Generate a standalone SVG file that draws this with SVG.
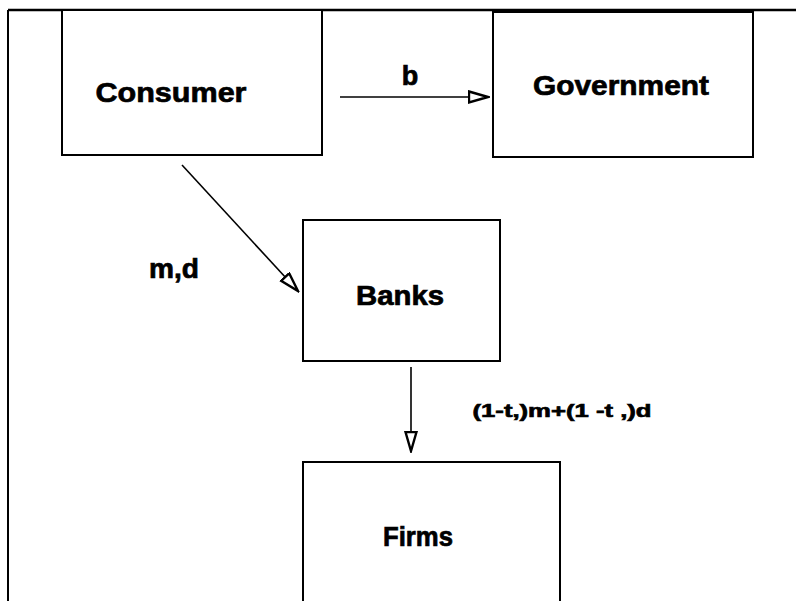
<svg xmlns="http://www.w3.org/2000/svg" width="796" height="601" viewBox="0 0 796 601">
<style>
.box{fill:#fff;stroke:#000;stroke-width:2}
.lbl{font-family:"Liberation Sans",Arial,sans-serif;font-weight:bold;fill:#000;stroke:#000;stroke-width:0.7;text-anchor:middle}
.edge{stroke:#000;stroke-width:1.6;fill:none}
</style>
<defs>
<marker id="arr" markerWidth="22" markerHeight="16" refX="20" refY="7" orient="auto" markerUnits="userSpaceOnUse">
<path d="M1,1.5 L20,7 L1,12.5 Z" fill="#fff" stroke="#000" stroke-width="2.4" stroke-linejoin="miter"/>
</marker>
</defs>
<rect width="796" height="601" fill="#fff"/>
<g id="frame">
<line x1="8" y1="10" x2="796" y2="10" stroke="#000" stroke-width="2.5"/>
<line x1="8" y1="10" x2="8" y2="601" stroke="#000" stroke-width="2"/>
</g>
<g id="consumer">
<rect class="box" x="62" y="10" width="260" height="145"/>
<text class="lbl" x="171" y="102" font-size="28" textLength="151" lengthAdjust="spacingAndGlyphs">Consumer</text>
</g>
<g id="government">
<rect class="box" x="493" y="12" width="260" height="145"/>
<text class="lbl" x="621" y="95" font-size="28" textLength="176" lengthAdjust="spacingAndGlyphs">Government</text>
</g>
<g id="banks">
<rect class="box" x="303" y="220" width="197" height="141"/>
<text class="lbl" x="400" y="305" font-size="27" textLength="88" lengthAdjust="spacingAndGlyphs">Banks</text>
</g>
<g id="firms">
<rect class="box" x="303" y="462" width="257" height="145"/>
<text class="lbl" x="418" y="546" font-size="27" textLength="70" lengthAdjust="spacingAndGlyphs">Firms</text>
</g>
<g id="connectors">
<line class="edge" x1="340" y1="97" x2="488" y2="97" marker-end="url(#arr)"/>
<text class="lbl" x="410" y="85" font-size="27">b</text>
<line class="edge" x1="182" y1="165" x2="298" y2="291" marker-end="url(#arr)"/>
<text class="lbl" x="174" y="278" font-size="27" textLength="50" lengthAdjust="spacingAndGlyphs">m,d</text>
<line class="edge" x1="411" y1="367" x2="411" y2="451" marker-end="url(#arr)"/>
<text class="lbl" x="562" y="417" font-size="19" textLength="179" lengthAdjust="spacingAndGlyphs">(1-t,)m+(1 -t ,)d</text>
</g>
</svg>
